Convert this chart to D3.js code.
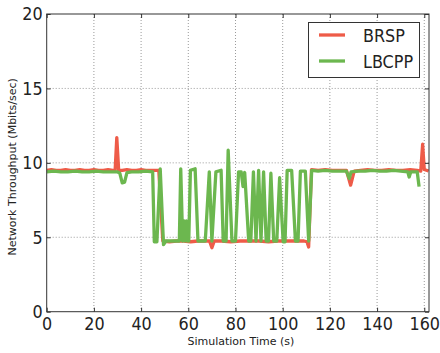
<!DOCTYPE html>
<html>
<head>
<meta charset="utf-8">
<script src="https://d3js.org/d3.v7.min.js"></script>
<style>
  body { margin: 0; background: #fff; }
  .tall { transform-box: fill-box; transform-origin: center; transform: scale(1, 1.15); }
</style>
</head>
<body>
<script>
var width = 440,
    height = 353;

//plot area
var plotLeft = 46.7, plotRight = 429, plotTop = 14, plotBottom = 311.7;

//data
var seriesNames = ["BRSP", "LBCPP"];
var seriesColors = ["#ee5b48", "#6cb74f"];

var xTicks = [0, 20, 40, 60, 80, 100, 120, 140, 160];
var yTicks = [0, 5, 10, 15, 20];

var brspTime = [0,2,4,6,8,10,12,14,16,18,20,22,24,26,28,29,29.7,30.5,32,34,36,38,40,42,44,46,47.5,49.2,52,55,58,61,64,67,69,70,71,74,78,82,86,90,94,98,102,106,109,110.3,111,112.2,115,118,121,124,127,128.8,130.3,133,136,139,142,145,148,151,154,157,158.5,159.3,160,161.8];
var brspValue = [9.5,9.55,9.5,9.5,9.55,9.5,9.5,9.55,9.5,9.5,9.55,9.5,9.5,9.55,9.5,9.5,11.7,9.5,9.5,9.55,9.5,9.5,9.55,9.5,9.5,9.5,9.5,4.75,4.7,4.75,4.75,4.7,4.75,4.75,4.75,4.3,4.75,4.75,4.7,4.75,4.75,4.75,4.7,4.75,4.75,4.75,4.75,4.7,4.35,9.55,9.5,9.55,9.5,9.5,9.5,8.5,9.45,9.5,9.55,9.5,9.5,9.55,9.5,9.5,9.55,9.5,9.45,11.25,9.55,9.45];

var lbcppTime = [0,3,6,9,12,15,18,21,24,27,30,31,32,33,34,36,39,42,44.9,45.6,46.7,48.1,49.5,50.5,53,56.2,56.8,57.6,58.2,58.7,59.2,59.7,60.2,60.9,62.9,64.1,67.2,68.9,70,71.7,73.9,74.8,76,76.9,78.5,80,81.3,82.4,83.2,83.9,85.6,86.5,87.6,88.7,89.8,90.8,91.9,93,94,95,96.2,97.5,98.7,100.2,101,101.9,103.8,105.4,106.5,107.5,109.6,111,112.3,115,118,121,124,127,128.2,129,132,135,138,141,144,147,150,153,153.6,154.3,157,157.8];
var lbcppValue = [9.4,9.45,9.4,9.4,9.45,9.4,9.4,9.45,9.4,9.4,9.4,9.3,8.65,8.7,9.35,9.4,9.4,9.45,9.4,4.7,4.7,9.6,4.5,4.75,4.75,4.75,9.6,4.75,6.1,4.75,6.1,4.75,4.75,9.5,9.6,4.75,4.75,9.4,4.75,9.4,9.5,4.75,4.75,10.85,4.75,4.75,9.4,9.4,8.4,9.35,4.75,4.75,9.4,4.75,9.5,4.75,9.4,4.75,4.75,9.3,4.75,4.75,9.0,4.7,4.7,9.5,9.5,4.75,4.75,9.45,9.45,4.75,9.5,9.45,9.5,9.45,9.45,9.45,8.95,9.4,9.45,9.45,9.5,9.45,9.45,9.5,9.45,9.4,9.05,9.4,9.4,8.4];

var series = [
  {name: seriesNames[0], color: seriesColors[0], pts: d3.zip(brspTime, brspValue)},
  {name: seriesNames[1], color: seriesColors[1], pts: d3.zip(lbcppTime, lbcppValue)}
];

var svg = d3.select("body")
    .append("svg")
    .attr("width", width)
    .attr("height", height)
    .style("font-family", "DejaVu Sans, sans-serif");

var x = d3.scaleLinear().domain([0, 162]).range([plotLeft, plotRight]);
var y = d3.scaleLinear().domain([0, 20]).range([plotBottom, plotTop]);

//grid
var grid = svg.append("g").attr("class", "grid");
grid.selectAll(".vg")
    .data(xTicks.filter(function(d) { return d > 0; }))
    .enter().append("line")
    .attr("x1", function(d) { return x(d); })
    .attr("x2", function(d) { return x(d); })
    .attr("y1", plotTop).attr("y2", plotBottom)
    .attr("stroke", "#9a9a9a").attr("stroke-width", 1)
    .attr("stroke-dasharray", "1,2");
grid.selectAll(".hg")
    .data(yTicks.filter(function(d) { return d > 0 && d < 20; }))
    .enter().append("line")
    .attr("y1", function(d) { return y(d); })
    .attr("y2", function(d) { return y(d); })
    .attr("x1", plotLeft).attr("x2", plotRight)
    .attr("stroke", "#9a9a9a").attr("stroke-width", 1)
    .attr("stroke-dasharray", "1,2");

//lines
svg.append("clipPath").attr("id", "clip")
    .append("rect").attr("x", plotLeft).attr("y", plotTop)
    .attr("width", plotRight - plotLeft).attr("height", plotBottom - plotTop);

var line = d3.line()
    .x(function(d) { return x(d[0]); })
    .y(function(d) { return y(d[1]); });

svg.append("g").attr("clip-path", "url(#clip)")
    .selectAll("path")
    .data(series)
    .enter().append("path")
    .attr("d", function(d) { return line(d.pts); })
    .attr("fill", "none")
    .attr("stroke", function(d) { return d.color; })
    .attr("stroke-width", 3.3)
    .attr("stroke-linejoin", "round");

//axes (ticks inside, like matplotlib)
var xAxis = svg.append("g")
    .attr("transform", "translate(0," + plotBottom + ")")
    .call(d3.axisBottom(x).tickValues(xTicks).tickSizeInner(-4).tickSizeOuter(0).tickPadding(6));
var yAxis = svg.append("g")
    .attr("transform", "translate(" + plotLeft + ",0)")
    .call(d3.axisLeft(y).tickValues(yTicks).tickSizeInner(-4).tickSizeOuter(0).tickPadding(4));
svg.append("g")
    .attr("transform", "translate(0," + plotTop + ")")
    .call(d3.axisTop(x).tickValues(xTicks).tickSizeInner(-4).tickSizeOuter(0).tickFormat(""));
svg.append("g")
    .attr("transform", "translate(" + plotRight + ",0)")
    .call(d3.axisRight(y).tickValues(yTicks).tickSizeInner(-4).tickSizeOuter(0).tickFormat(""));

svg.selectAll(".domain").remove();
svg.selectAll(".tick line").attr("stroke", "#333");
[xAxis, yAxis].forEach(function(a) {
  a.selectAll("text")
      .attr("font-size", "16px")
      .attr("font-family", "DejaVu Sans, sans-serif")
      .attr("fill", "#222")
      .attr("class", "tall");
});

//frame
svg.append("rect")
    .attr("x", plotLeft).attr("y", plotTop)
    .attr("width", plotRight - plotLeft).attr("height", plotBottom - plotTop)
    .attr("fill", "none").attr("stroke", "#333").attr("stroke-width", 1);

//axis titles
svg.append("text")
    .attr("x", (plotLeft + plotRight) / 2 + 3)
    .attr("y", 345)
    .attr("text-anchor", "middle")
    .attr("font-size", "11px")
    .attr("fill", "#222")
    .text("Simulation Time (s)");
svg.append("text")
    .attr("transform", "translate(16," + ((plotTop + plotBottom) / 2 + 4) + ") rotate(-90)")
    .attr("text-anchor", "middle")
    .attr("font-size", "11px")
    .attr("fill", "#222")
    .text("Network Throughput (Mbits/sec)");

//legend
var lg = svg.append("g");
lg.append("rect")
    .attr("x", 308.5).attr("y", 22.5)
    .attr("width", 111).attr("height", 55)
    .attr("fill", "#fff").attr("stroke", "#333").attr("stroke-width", 1);
series.forEach(function(s, i) {
  var ly = 35 + i * 26;
  lg.append("line")
      .attr("x1", 319).attr("x2", 345)
      .attr("y1", ly).attr("y2", ly)
      .attr("stroke", s.color).attr("stroke-width", 3.3);
  lg.append("text")
      .attr("x", 363).attr("y", ly + 6)
      .attr("font-size", "16px")
      .attr("fill", "#222")
      .attr("class", "tall")
      .text(s.name);
});
</script>
</body>
</html>
